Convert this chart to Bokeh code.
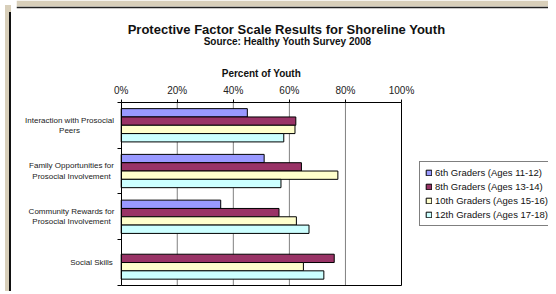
import numpy as np
from bokeh.plotting import figure
from bokeh.models import (ColumnDataSource, Range1d, LinearAxis, FixedTicker, Label,
                          Legend, LegendItem, Div, Span, BoxAnnotation)
from bokeh.layouts import row
from bokeh.transform import dodge
from bokeh.embed import file_html
from bokeh.resources import INLINE

# ---------------- data ----------------
categories = ["Interaction with Prosocial\nPeers",
              "Family Opportunities for\nProsocial Involvement",
              "Community Rewards for\nProsocial Involvement",
              "Social Skills"]
series_names = ["6th Graders (Ages 11-12)", "8th Graders (Ages 13-14)",
                "10th Graders (Ages 15-16)", "12th Graders (Ages 17-18)"]
grade6 = [45, 51, 35.5, float("nan")]
grade8 = [62.3, 64.3, 56.3, 76]
grade10 = [62, 77.3, 62.5, 65]
grade12 = [58, 57, 67, 72.3]
x_ticks = [0, 20, 40, 60, 80, 100]
x_tick_labels = ["0%", "20%", "40%", "60%", "80%", "100%"]
title_text = "Protective Factor Scale Results for Shoreline Youth"
subtitle_text = "Source: Healthy Youth Survey 2008"
x_title = "Percent of Youth"

colors = ["#9999FF", "#993366", "#FFFFCC", "#CCFFFF"]
FONT = "Liberation Sans"
BEIGE = "#d8cfba"

# ---------------- layout (pixels inside the canvas) ----------------
W, H = 532, 286
PLOT_LEFT, PLOT_W = 104.7, 280.3
PLOT_TOP, PLOT_BOTTOM = 101.9, 284.9

n = len(categories)
unit_px = (PLOT_BOTTOM - PLOT_TOP) / n
x_start = -PLOT_LEFT / PLOT_W * 100
x_end = (W - PLOT_LEFT) / PLOT_W * 100
y_top = -PLOT_TOP / unit_px
y_bottom = n + (H - PLOT_BOTTOM) / unit_px

centers = [i + 0.5 for i in range(n)]
src = ColumnDataSource(dict(
    yc=centers,
    g6=grade6, g8=grade8, g10=grade10, g12=grade12,
))

p = figure(width=W, height=H, output_backend="svg", toolbar_location=None,
           x_range=Range1d(x_start, x_end), y_range=Range1d(y_bottom, y_top),
           x_axis_location=None, y_axis_location=None,
           min_border_left=0, min_border_right=0, min_border_top=0, min_border_bottom=0)
p.outline_line_color = None
p.background_fill_color = "white"
p.border_fill_color = "white"
p.grid.visible = False

# beige strip above the chart area and its top border
p.add_layout(BoxAnnotation(top=H, bottom=H - 6, left=0, right=W,
                           top_units="screen", bottom_units="screen",
                           left_units="screen", right_units="screen",
                           fill_color=BEIGE, fill_alpha=1, line_color=None))
p.add_layout(Span(location=H - 7, location_units="screen", dimension="width",
                  line_color="#222222", line_width=1.5))

# vertical gridlines limited to the plot area
grid_ticks = x_ticks[1:-1]
p.segment(x0=grid_ticks, y0=[0] * len(grid_ticks), x1=grid_ticks, y1=[n] * len(grid_ticks),
          line_color="#808080", line_width=1)

# top x axis (drawn inside the frame at the plot-area top)
xax = LinearAxis(ticker=FixedTicker(ticks=x_ticks),
                 major_label_overrides={t: l for t, l in zip(x_ticks, x_tick_labels)},
                 fixed_location=0, bounds=(0, 100))
xax.axis_line_color = "black"
xax.major_tick_line_color = "black"
xax.major_tick_out = 3
xax.major_tick_in = 0
xax.minor_tick_line_color = None
xax.major_label_text_font = FONT
xax.major_label_text_font_size = "10px"
xax.major_label_text_color = "#222222"
xax.major_label_standoff = 3
p.add_layout(xax, "above")

# bottom border line
bax = LinearAxis(ticker=FixedTicker(ticks=[]), fixed_location=n, bounds=(0, 100))
bax.axis_line_color = "black"
bax.major_tick_line_color = None
bax.minor_tick_line_color = None
p.add_layout(bax, "below")

# left axis with category separator ticks
yax = LinearAxis(ticker=FixedTicker(ticks=list(range(n + 1))),
                 major_label_overrides={i: "" for i in range(n + 1)},
                 fixed_location=0, bounds=(0, n))
yax.axis_line_color = "black"
yax.major_tick_line_color = "black"
yax.major_tick_out = 4
yax.major_tick_in = 0
yax.minor_tick_line_color = None
yax.major_label_text_font_size = "1px"
p.add_layout(yax, "left")

# right border (100%)
rax = LinearAxis(ticker=FixedTicker(ticks=[]), fixed_location=100, bounds=(0, n))
rax.axis_line_color = "black"
rax.major_tick_line_color = None
rax.minor_tick_line_color = None
p.add_layout(rax, "right")

# bars
bar_h = 1.0 / (len(series_names) + 1.5)
cols = ["g6", "g8", "g10", "g12"]
renderers = []
for i, (c, col) in enumerate(zip(cols, colors)):
    r = p.hbar(y=dodge("yc", (i - 1.5) * bar_h), right=c, left=0, height=bar_h,
               source=src, fill_color=col, line_color="black", line_width=1)
    renderers.append(r)

legend = Legend(items=[LegendItem(label=s, renderers=[r]) for s, r in zip(series_names, renderers)],
                location=(403, H - 226.4))
legend.label_text_font = FONT
legend.label_text_font_size = "9.5px"
legend.label_text_color = "#111111"
legend.glyph_width = 7
legend.glyph_height = 7
legend.label_height = 11
legend.label_standoff = 3
legend.spacing = 3
legend.padding = 5
legend.margin = 0
legend.border_line_color = "black"
legend.border_line_width = 1
legend.background_fill_color = "white"
legend.background_fill_alpha = 1
p.add_layout(legend, "center")

# category labels (centred lines, block right-aligned near the axis)
label_x = [53, 55, 55, 75]
for yc, txt, lx in zip(centers, categories, label_x):
    p.add_layout(Label(x=lx, y=yc, x_units="screen", y_units="data", text=txt,
                       text_align="center", text_baseline="middle", text_font=FONT,
                       text_font_size="8px", text_color="#222222", text_line_height=1.12))

# titles
p.add_layout(Label(x=270, y=H - 29.4, x_units="screen", y_units="screen", text=title_text,
                   text_align="center", text_baseline="middle", text_font=FONT,
                   text_font_size="13px", text_font_style="bold", text_color="#111111"))
p.add_layout(Label(x=271, y=H - 40.8, x_units="screen", y_units="screen", text=subtitle_text,
                   text_align="center", text_baseline="middle", text_font=FONT,
                   text_font_size="10px", text_font_style="bold", text_color="#111111"))
p.add_layout(Label(x=PLOT_LEFT + PLOT_W / 2, y=H - 73.3, x_units="screen", y_units="screen",
                   text=x_title, text_align="center", text_baseline="middle", text_font=FONT,
                   text_font_size="10px", text_font_style="bold", text_color="#111111"))

strip = Div(text="", width=6, height=H,
            styles={"background": (f"linear-gradient(to bottom, {BEIGE} 7px, transparent 7px), "
                                   f"linear-gradient(to right, {BEIGE} 0px, {BEIGE} 4px, "
                                   f"#111111 4px, #111111 6px)")})

layout = row(strip, p)
open("out.html", "w").write(file_html(layout, INLINE))
